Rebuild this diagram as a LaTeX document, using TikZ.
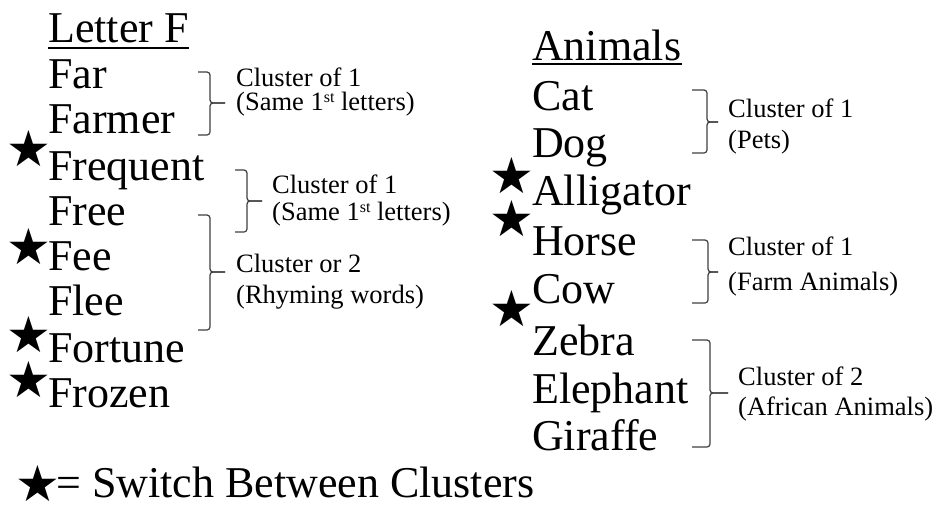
\documentclass[tikz,border=0pt]{standalone}
\usepackage{fontspec}
\setmainfont{Liberation Serif}
\newfontfamily\starfont{DejaVu Sans}
\newcommand{\word}[4]{% x, y (baseline), name, text
  \node[wordtxt] (#3) at (#1,#2) {#4};}
\newcommand{\swstar}[3]{% x, y (centre), name
  \node[startxt] (#3) at (#1,#2) {★};}
\newcommand{\clbrace}[6]{% x end, x stem, top, bottom, tip x, tip y
  \draw[brace] (#1,#3) -- (#2,#3) -- (#2,#6) -- (#5,#6);
  \draw[brace] (#5,#6) -- (#2,#6) -- (#2,#4) -- (#1,#4);}
\newcommand{\cllabel}[6]{% x, y line 1, y line 2, name, line 1, line 2
  \node[labtxt] (#4) at (#1,#2) {#5};
  \node[labtxt] (#4b) at (#1,#3) {#6};}
\newcommand{\ordsup}[1]{\raisebox{0.3em}{\fontsize{16}{16}\selectfont #1}}

\begin{document}
\begin{tikzpicture}[x=1pt,y=-1pt,
  wordtxt/.style={anchor=base west,inner sep=0,font=\fontsize{44}{44}\selectfont},
  labtxt/.style={anchor=base west,inner sep=0,font=\fontsize{26.5}{26.5}\selectfont},
  startxt/.style={inner sep=0,font=\starfont\fontsize{50}{50}\selectfont},
  brace/.style={draw=black!75,line width=1.2pt,rounded corners=3pt}]
  \fill[white] (0,0) rectangle (944,504);
  \useasboundingbox (0,0) rectangle (944,504);
  % ---- left column, letter F ----
  \word{48}{42}{letf}{Letter F}
  \draw[line width=1.6pt] ([yshift=-6pt]letf.base west) -- ([yshift=-6pt]letf.base east);
  \word{48}{88}{far}{Far}
  \word{48}{133}{farmer}{Farmer}
  \word{48}{180}{frequent}{Frequent}
  \word{48}{225}{free}{Free}
  \word{48}{270}{fee}{Fee}
  \word{48}{315}{flee}{Flee}
  \word{48}{362}{fortune}{Fortune}
  \word{48}{407}{frozen}{Frozen}
  \swstar{29}{149}{sfrequent}
  \swstar{29}{247}{sfee}
  \swstar{29}{335}{sfortune}
  \swstar{29}{380}{sfrozen}
  % clusters
  \clbrace{198}{210}{72}{135}{225}{103}
  \cllabel{236}{86}{110}{cla}{Cluster of 1}{(Same 1\ordsup{st} letters)}
  \clbrace{235}{247}{170}{232}{262}{201}
  \cllabel{272}{193}{220}{clb}{Cluster of 1}{(Same 1\ordsup{st} letters)}
  \clbrace{198}{210}{215}{330}{225}{272}
  \cllabel{236}{272}{303}{clc}{Cluster or 2}{(Rhyming words)}
  % ---- right column, animals ----
  \word{532}{60}{anim}{Animals}
  \draw[line width=1.6pt] ([yshift=-4pt]anim.base west) -- ([yshift=-4pt]anim.base east);
  \word{532}{110}{cat}{Cat}
  \word{532}{157}{dog}{Dog}
  \word{532}{205}{alligator}{Alligator}
  \word{532}{255}{horse}{Horse}
  \word{532}{303}{cow}{Cow}
  \word{532}{355}{zebra}{Zebra}
  \word{532}{403}{elephant}{Elephant}
  \word{532}{450}{giraffe}{Giraffe}
  \swstar{512}{176}{salligator}
  \swstar{512}{219}{shorse}
  \swstar{512}{309}{scow}
  % clusters
  \clbrace{692}{707}{90}{153}{718}{122}
  \cllabel{728}{117}{148}{cld}{Cluster of 1}{(Pets)}
  \clbrace{692}{708}{240}{303}{718}{272}
  \cllabel{728}{255}{290}{cle}{Cluster of 1}{(Farm Animals)}
  \clbrace{692}{710}{340}{447}{728}{393}
  \cllabel{738}{385}{415}{clf}{Cluster of 2}{(African Animals)}
  % ---- legend ----
  \node[anchor=base west,inner sep=0,font=\fontsize{44}{44}\selectfont] (legend) at (20,497)
    {\makebox[36pt][c]{\raisebox{-4pt}{\starfont\fontsize{50}{50}\selectfont ★}}= Switch Between Clusters};
\end{tikzpicture}
\end{document}
